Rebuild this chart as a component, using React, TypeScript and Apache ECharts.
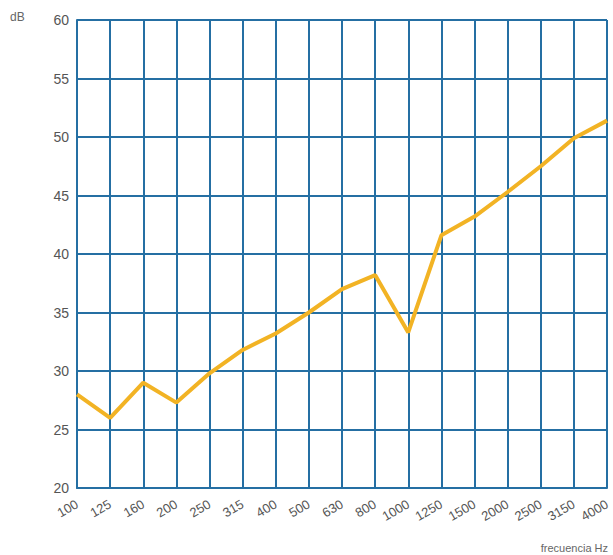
import React, { useEffect, useRef } from "react";
import * as echarts from "echarts";

const frequencies = ["100", "125", "160", "200", "250", "315", "400", "500", "630", "800", "1000", "1250", "1500", "2000", "2500", "3150", "4000"];
const levels = [28, 26, 29, 27.3, 29.8, 31.8, 33.2, 35, 37, 38.2, 33.3, 41.6, 43.2, 45.3, 47.5, 49.9, 51.4];
const yMin = 20;
const yMax = 60;
const yStep = 5;

export default function App() {
  const ref = useRef<HTMLDivElement>(null);
  useEffect(() => {
    if (!ref.current) return;
    const chart = echarts.init(ref.current, null, { renderer: "svg" });
    const gridColor = "#256fa3";
    chart.setOption({
      animation: false,
      backgroundColor: "#ffffff",
      grid: { left: 77, right: 6, top: 20, bottom: 67, containLabel: false },
      graphic: [
        { type: "text", left: 10, top: 11, style: { text: "dB", fontSize: 12, fill: "#666", fontFamily: "Liberation Sans" } },
        { type: "text", right: 5, top: 542, style: { text: "frecuencia Hz", fontSize: 11, fill: "#666", fontFamily: "Liberation Sans" } },
      ],
      xAxis: {
        type: "category",
        data: frequencies,
        boundaryGap: false,
        axisLine: { show: true, lineStyle: { color: gridColor, width: 2 } },
        axisTick: { show: false },
        axisLabel: { interval: 0, rotate: 30, margin: 15, fontSize: 13, color: "#555", fontFamily: "Liberation Sans" },
        splitLine: { show: true, interval: 0, lineStyle: { color: gridColor, width: 2 } },
      },
      yAxis: {
        type: "value",
        min: yMin,
        max: yMax,
        interval: yStep,
        axisLine: { show: true, lineStyle: { color: gridColor, width: 2 } },
        axisTick: { show: false },
        axisLabel: { margin: 8, fontSize: 14, color: "#555", fontFamily: "Liberation Sans" },
        splitLine: { show: true, lineStyle: { color: gridColor, width: 2 } },
      },
      series: [
        {
          type: "line",
          data: levels,
          symbol: "none",
          lineStyle: { color: "#f2b324", width: 4 },
          z: 5,
        },
      ],
    });
    return () => chart.dispose();
  }, []);
  return <div ref={ref} style={{ position: "fixed", left: 0, top: 0, width: 613, height: 555 }} />;
}
